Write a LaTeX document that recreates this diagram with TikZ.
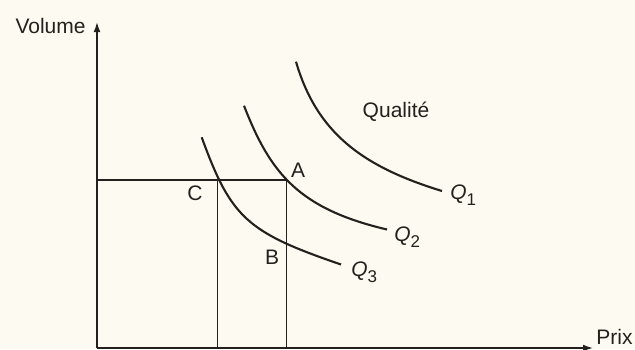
\documentclass[tikz,border=0pt]{standalone}
\usepackage{fontspec}
\setmainfont{Liberation Sans}
\usetikzlibrary{arrows.meta}
\definecolor{paper}{RGB}{253,251,241}
\definecolor{ink}{RGB}{35,32,30}
\newcommand{\qsub}[1]{\textit{Q}\raisebox{-3pt}{\fontsize{8.5}{10}\selectfont #1}}
\begin{document}
\begin{tikzpicture}[x=0.5pt,y=-0.5pt,
  axis/.style={draw=ink,line width=0.7pt,-{Latex[length=5pt,width=3.4pt]}},
  guide/.style={draw=ink,line width=0.6pt},
  curve/.style={draw=ink,line width=1.05pt},
  lbl/.style={text=ink,inner sep=0pt,font=\fontsize{10.5}{12}\selectfont}]
\fill[paper] (0,0) rectangle (635,349);
\useasboundingbox (0,0) rectangle (635,349);
% axes
\coordinate (O) at (97,348);
\coordinate (ytop) at (97,22);
\coordinate (xend) at (593,348);
\draw[axis] (O) -- (ytop);
\draw[axis] (O) -- (xend);
\node[lbl,anchor=east] (vol) at (86,26) {Volume};
\node[lbl,anchor=base west] (prix) at (596,344) {Prix};
% key points
\coordinate (C) at (217.3,180);
\coordinate (A) at (286.7,180);
\coordinate (B) at (286.7,244.3);
\coordinate (yC) at (97,180);
\coordinate (Cb) at (217.3,349);
\coordinate (Ab) at (286.7,349);
\draw[guide] (yC) -- (A) -- (Ab);
\draw[guide] (C) -- (Cb);
% curves
\coordinate (q3s) at (201.7,137.3);
\coordinate (q3e) at (341,264.5);
\coordinate (q2s) at (244,105.7);
\coordinate (q2e) at (387,229.5);
\coordinate (q1s) at (296,61.7);
\coordinate (q1e) at (442,191);
\draw[curve] (q3s) .. controls (231.1,217.9) and (246.7,232.2) .. (q3e);
\draw[curve] (q2s) .. controls (270.2,173.0) and (298.2,208.6) .. (q2e);
\draw[curve] (q1s) .. controls (316.8,133.0) and (362.6,166.7) .. (q1e);
% labels
\node[lbl] (lA) at (298,170) {A};
\node[lbl] (lB) at (272,257) {B};
\node[lbl] (lC) at (195,193) {C};
\node[lbl] (qual) at (396,112) {Qualité};
\node[lbl,anchor=west] (q1) at (450,195) {\qsub{1}};
\node[lbl,anchor=west] (q2) at (394,237) {\qsub{2}};
\node[lbl,anchor=west] (q3) at (351,272) {\qsub{3}};
\end{tikzpicture}
\end{document}
